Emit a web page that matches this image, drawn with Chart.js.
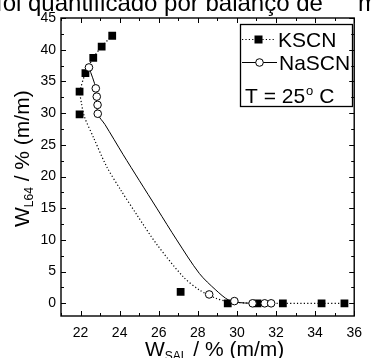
<!DOCTYPE html>
<html>
<head>
<meta charset="utf-8">
<script src="https://cdn.jsdelivr.net/npm/chart.js@4.4.0/dist/chart.umd.min.js"></script>
<style>
  html, body { margin: 0; padding: 0; background: #fff; overflow: hidden; }
  #wrap { position: relative; width: 371px; height: 358px; }
</style>
</head>
<body>
<div id="wrap"><canvas id="chart" width="371" height="358"></canvas></div>
<script>
const FONT = "'Liberation Sans', Arial, sans-serif";

// axis ticks
const xTicks = [22, 24, 26, 28, 30, 32, 34, 36];
const xMinor = [21, 23, 25, 27, 29, 31, 33, 35];
const yTicks = [0, 5, 10, 15, 20, 25, 30, 35, 40, 45];
const yMinor = [2.5, 7.5, 12.5, 17.5, 22.5, 27.5, 32.5, 37.5, 42.5];

// measured points
const kscnX = [23.62, 23.08, 22.65, 22.25, 21.95, 21.95, 27.12, 29.53, 31.05, 32.35, 34.33, 35.5];
const kscnY = [42.2, 40.5, 38.7, 36.3, 33.4, 29.8, 1.8, 0, 0, 0, 0, 0];
const nascnX = [22.43, 22.78, 22.83, 22.87, 22.88, 28.58, 29.87, 30.8, 31.42, 31.75];
const nascnY = [37.2, 33.9, 32.6, 31.3, 29.9, 1.4, 0.35, 0, 0, 0];

// fitted curves
const kscnFitX = [23.62, 23.08, 22.65, 22.25, 21.98, 22.05, 22.2, 22.67, 23.33, 24.05, 24.85, 25.9, 27.25, 28.08, 28.92, 29.6, 30.5, 32, 35.5];
const kscnFitY = [42.2, 40.5, 38.7, 36.3, 33.4, 31.5, 29.4, 26.1, 21.6, 17.9, 14.1, 9.3, 4.2, 2.1, 0.8, 0.25, 0.05, 0, 0];
const nascnFitX = [22.43, 22.78, 22.88, 23.25, 24.17, 25.0, 25.92, 26.92, 28.08, 28.92, 29.58, 30.2, 31.0, 31.75];
const nascnFitY = [37.2, 33.9, 29.9, 28.2, 23.5, 19.4, 14.9, 10.0, 4.7, 2.1, 0.5, 0.1, 0, 0];

// cut-off line of the surrounding (justified) document text
const pageLine = 'foi quantificado por balanço de';
const pageLineEnd = 'massa';

const pts = (xs, ys) => xs.map((v, i) => ({ x: v, y: ys[i] }));

// draws text pieces one after another, some lowered / raised
function drawRuns(ctx, runs, x0, y0) {
  let cx = x0;
  runs.forEach(r => {
    ctx.font = r.size + 'px ' + FONT;
    ctx.fillText(r.text, cx, y0 + (r.dy || 0));
    cx += ctx.measureText(r.text).width + (r.gap || 0);
  });
  return cx;
}
function runsWidth(ctx, runs) {
  let w = 0;
  runs.forEach(r => { ctx.font = r.size + 'px ' + FONT; w += ctx.measureText(r.text).width + (r.gap || 0); });
  return w;
}

const framePlugin = {
  id: 'frame',
  afterDraw(chart) {
    const { ctx, chartArea: a } = chart;
    const xs = chart.scales.x, ys = chart.scales.y;
    ctx.save();
    ctx.fillStyle = '#000';
    ctx.strokeStyle = '#000';

    // frame
    ctx.lineWidth = 1.4;
    ctx.strokeRect(a.left, a.top, a.right - a.left, a.bottom - a.top);

    // inward ticks on all sides
    ctx.lineWidth = 1;
    ctx.beginPath();
    const xt = (v, len) => {
      const p = Math.round(xs.getPixelForValue(v)) + 0.5;
      ctx.moveTo(p, a.bottom); ctx.lineTo(p, a.bottom - len);
      ctx.moveTo(p, a.top); ctx.lineTo(p, a.top + len);
    };
    const yt = (v, len) => {
      const p = Math.round(ys.getPixelForValue(v)) + 0.5;
      ctx.moveTo(a.left, p); ctx.lineTo(a.left + len, p);
      ctx.moveTo(a.right, p); ctx.lineTo(a.right - len, p);
    };
    xTicks.forEach(v => xt(v, 5));
    xMinor.forEach(v => xt(v, 3));
    yTicks.forEach(v => yt(v, 5));
    yMinor.forEach(v => yt(v, 3));
    ctx.stroke();

    // axis titles
    ctx.textBaseline = 'alphabetic';
    ctx.textAlign = 'left';
    const xRuns = [
      { text: 'W', size: 21 },
      { text: 'SAL', size: 12, dy: 4 },
      { text: ' / % (m/m)', size: 21 }
    ];
    const xw = runsWidth(ctx, xRuns);
    drawRuns(ctx, xRuns, (a.left + a.right) / 2 + 7 - xw / 2, 356);

    const yRuns = [
      { text: 'W', size: 21 },
      { text: 'L64', size: 12, dy: 4 },
      { text: ' / % (m/m)', size: 21 }
    ];
    ctx.save();
    ctx.translate(29, 227);
    ctx.rotate(-Math.PI / 2);
    drawRuns(ctx, yRuns, 0, 0);
    ctx.restore();

    // legend box
    ctx.lineWidth = 1.3;
    ctx.strokeRect(240.5, 24.5, 112, 82);
    // KSCN sample
    ctx.lineWidth = 1.2;
    ctx.setLineDash([1.2, 2.2]);
    ctx.beginPath(); ctx.moveTo(242, 39.5); ctx.lineTo(275, 39.5); ctx.stroke();
    ctx.setLineDash([]);
    ctx.fillRect(254.5, 35.5, 8, 8);
    // NaSCN sample
    ctx.lineWidth = 1;
    ctx.beginPath(); ctx.moveTo(242, 62.5); ctx.lineTo(277, 62.5); ctx.stroke();
    ctx.beginPath(); ctx.arc(259.5, 62.5, 3.8, 0, Math.PI * 2);
    ctx.fillStyle = '#fff'; ctx.fill(); ctx.stroke();
    ctx.fillStyle = '#000';
    ctx.font = '21px ' + FONT;
    ctx.fillText('KSCN', 278, 47);
    ctx.fillText('NaSCN', 279, 70);
    drawRuns(ctx, [
      { text: 'T = 25', size: 21, gap: 1 },
      { text: 'o', size: 13, dy: -8, gap: 0 },
      { text: ' C', size: 21 }
    ], 245, 102.5);

    // document text above the figure, cut by the top edge
    ctx.font = '24px ' + FONT;
    ctx.fillText(pageLine, -4, 11);
    ctx.fillText(pageLineEnd, 358, 11);
    ctx.restore();
  }
};

new Chart(document.getElementById('chart'), {
  type: 'scatter',
  data: {
    datasets: [
      {
        label: 'NaSCN',
        data: pts(nascnX, nascnY),
        pointStyle: 'circle',
        pointRadius: 3.8,
        pointBackgroundColor: '#fff',
        pointBorderColor: '#000',
        pointBorderWidth: 1,
        showLine: false
      },
      {
        label: 'KSCN',
        data: pts(kscnX, kscnY),
        pointStyle: 'rect',
        pointRadius: 5.5,
        pointBackgroundColor: '#000',
        pointBorderColor: '#000',
        pointBorderWidth: 0,
        showLine: false
      },
      {
        label: 'KSCN fit',
        data: pts(kscnFitX, kscnFitY),
        showLine: true,
        borderColor: '#000',
        borderWidth: 1.2,
        borderDash: [1.2, 2.2],
        pointRadius: 0,
        tension: 0.3
      },
      {
        label: 'NaSCN fit',
        data: pts(nascnFitX, nascnFitY),
        showLine: true,
        borderColor: '#000',
        borderWidth: 1,
        pointRadius: 0,
        tension: 0.3
      }
    ]
  },
  options: {
    responsive: false,
    animation: false,
    layout: { padding: { top: 18, right: 10, left: 0, bottom: 0 } },
    plugins: { legend: { display: false }, tooltip: { enabled: false } },
    scales: {
      x: {
        type: 'linear',
        min: 21,
        max: 36,
        afterBuildTicks: s => { s.ticks = xTicks.map(v => ({ value: v })); },
        afterFit: s => { s.height = 42; },
        grid: { display: false, drawTicks: false },
        border: { display: false },
        ticks: { color: '#000', font: { family: FONT, size: 14 }, padding: 9, maxRotation: 0 }
      },
      y: {
        type: 'linear',
        min: -2,
        max: 45,
        afterBuildTicks: s => { s.ticks = yTicks.map(v => ({ value: v })); },
        afterFit: s => { s.width = 61; },
        grid: { display: false, drawTicks: false },
        border: { display: false },
        ticks: { color: '#000', font: { family: FONT, size: 14 }, padding: 5 }
      }
    }
  },
  plugins: [framePlugin]
});
</script>
</body>
</html>
